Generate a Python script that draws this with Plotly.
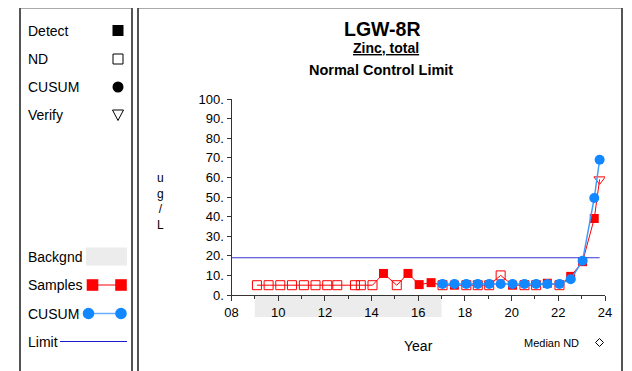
import plotly.graph_objects as go

# ---------------- data ----------------
sample_year = [9.09, 9.59, 10.09, 10.59, 11.1, 11.6, 12.1, 12.53, 13.29, 13.54,
               14.04, 14.51, 15.08, 15.56, 16.04, 16.55, 17.04, 17.55, 18.06, 18.55,
               19.04, 19.53, 20.04, 20.55, 21.05, 21.53, 22.05, 22.53, 23.04, 23.54, 23.77]
sample_value = [5, 5, 5, 5, 5, 5, 5, 5, 5, 5,
                5, 11, 5, 11, 5.3, 6.3, 5, 5, 5, 5,
                5, 10, 5, 5, 5, 6, 5, 9.5, 17, 39, 59]
sample_kind = ["N", "N", "N", "N", "N", "N", "N", "N", "N", "N",
               "N", "D", "N", "D", "D", "D", "N", "D", "N", "N",
               "N", "N", "D", "N", "N", "D", "N", "D", "D", "D", "V"]

cusum_year = [17.04, 17.55, 18.06, 18.55, 19.04, 19.53, 20.04, 20.55, 21.05, 21.53,
              22.05, 22.53, 23.04, 23.54, 23.77]
cusum_value = [5.6, 5.6, 5.6, 5.6, 5.6, 5.6, 5.6, 5.6, 5.6, 5.6,
               5.6, 8, 17.5, 49.5, 69]

limit_value = 19
limit_years = [8, 23.77]
background_years = [9, 17]
median_nd_year = [24.16]
median_nd_value = [4.6]

x_tick_vals = list(range(8, 25, 2))
x_tick_text = ["08", "10", "12", "14", "16", "18", "20", "22", "24"]
y_tick_vals = list(range(0, 101, 10))
y_tick_text = ["0.", "10.", "20.", "30.", "40.", "50.", "60.", "70.", "80.", "90.", "100."]

title_main = "LGW-8R"
title_param = "Zinc, total"
title_sub = "Normal Control Limit"
x_title = "Year"
y_title = ["u", "g", "/", "L"]
legend_items = ["Detect", "ND", "CUSUM", "Verify"]
legend_lines = ["Backgnd", "Samples", "CUSUM", "Limit"]

# ---------------- style ----------------
W, H = 632, 371
OFF = 8  # page body margin offset
RED = "#ff0000"
BLUE = "#1188ff"
BLUE_LINE = "#3d9bff"
LIMIT = "#3535d5"
FONT = "Arial, Liberation Sans, sans-serif"


def X(px):
    return (px - OFF) / W


def Y(py):
    return 1 - (py - OFF) / H


def label(text, px, py, size, xanchor="center"):
    return dict(text=text, x=X(px), y=Y(py), xref="paper", yref="paper",
                xanchor=xanchor, yanchor="middle", showarrow=False,
                font=dict(size=size, family=FONT, color="black"))


fig = go.Figure()

# samples line
fig.add_trace(go.Scatter(x=sample_year, y=sample_value, mode="lines",
                         line=dict(color=RED, width=1), hoverinfo="skip"))
det_x = [x for x, k in zip(sample_year, sample_kind) if k == "D"]
det_y = [y for y, k in zip(sample_value, sample_kind) if k == "D"]
nd_x = [x for x, k in zip(sample_year, sample_kind) if k == "N"]
nd_y = [y for y, k in zip(sample_value, sample_kind) if k == "N"]
v_x = [x for x, k in zip(sample_year, sample_kind) if k == "V"]
v_y = [y for y, k in zip(sample_value, sample_kind) if k == "V"]
fig.add_trace(go.Scatter(x=nd_x, y=nd_y, mode="markers",
                         marker=dict(symbol="square-open", size=9, color=RED,
                                     line=dict(width=1, color=RED))))
fig.add_trace(go.Scatter(x=det_x, y=det_y, mode="markers",
                         marker=dict(symbol="square", size=9, color=RED)))
fig.add_trace(go.Scatter(x=v_x, y=v_y, mode="markers",
                         marker=dict(symbol="triangle-down-open", size=10, color=RED,
                                     line=dict(width=1, color=RED))))
# limit
fig.add_trace(go.Scatter(x=limit_years, y=[limit_value] * len(limit_years), mode="lines",
                         line=dict(color=LIMIT, width=1.2)))
# cusum
fig.add_trace(go.Scatter(x=cusum_year, y=cusum_value, mode="lines+markers",
                         line=dict(color=BLUE_LINE, width=1.5),
                         marker=dict(symbol="circle", size=10, color=BLUE)))
# median ND
fig.add_trace(go.Scatter(x=median_nd_year, y=median_nd_value, mode="markers",
                         cliponaxis=False,
                         marker=dict(symbol="diamond-open", size=8, color=RED,
                                     line=dict(width=1, color=RED))))

shapes = []
annotations = []

# panel borders
shapes.append(dict(type="rect", xref="paper", yref="paper", x0=X(20), x1=X(132),
                   y0=Y(385), y1=Y(7.5), line=dict(color="#555555", width=2),
                   fillcolor="rgba(0,0,0,0)", layer="below"))
shapes.append(dict(type="rect", xref="paper", yref="paper", x0=X(138), x1=X(622),
                   y0=Y(385), y1=Y(7.5), line=dict(color="#555555", width=2),
                   fillcolor="rgba(0,0,0,0)", layer="below"))

# background band under axis
shapes.append(dict(type="rect", xref="x", yref="paper", x0=background_years[0],
                   x1=background_years[1], y0=Y(317), y1=Y(296),
                   fillcolor="#ececec", line=dict(width=0), layer="below"))

# titles
annotations.append(label("<b>" + title_main + "</b>", 382, 29, 19.5))
annotations.append(label("<b><u>" + title_param + "</u></b>", 386, 48, 14))
annotations.append(label("<b>" + title_sub + "</b>", 381, 70, 14.5))

# y title (stacked letters)
annotations.append(label("<br>".join(y_title), 160.5, 201.5, 12))
# x title
annotations.append(label(x_title, 418, 346, 14))
annotations.append(label("Median ND", 551, 342.5, 11))
shapes.append(dict(type="path", xref="paper", yref="paper",
                   path="M {} {} L {} {} L {} {} L {} {} Z".format(
                       X(599.5), Y(338.5), X(603.5), Y(342.5), X(599.5), Y(346.5), X(595.5), Y(342.5)),
                   line=dict(color="black", width=1), fillcolor="rgba(0,0,0,0)"))

# legend texts
for txt, py in zip(legend_items, [30.5, 59, 87, 115]):
    annotations.append(label(txt, 26, py, 14, xanchor="left"))
for txt, py in zip(legend_lines, [256.5, 285, 313.5, 341.5]):
    annotations.append(label(txt, 26, py, 14, xanchor="left"))

# legend symbols
sx = 118
s = 5.5
shapes.append(dict(type="rect", xref="paper", yref="paper", x0=X(sx - s), x1=X(sx + s),
                   y0=Y(30.5 + s), y1=Y(30.5 - s), fillcolor="black", line=dict(width=0)))
shapes.append(dict(type="rect", xref="paper", yref="paper", x0=X(sx - s + 0.5), x1=X(sx + s - 0.5),
                   y0=Y(59 + s - 0.5), y1=Y(59 - s + 0.5), fillcolor="white",
                   line=dict(color="black", width=1)))
shapes.append(dict(type="circle", xref="paper", yref="paper", x0=X(sx - s), x1=X(sx + s),
                   y0=Y(87 + s), y1=Y(87 - s), fillcolor="black", line=dict(width=0)))
shapes.append(dict(type="path", xref="paper", yref="paper",
                   path="M {} {} L {} {} L {} {} Z".format(
                       X(sx - 5.5), Y(110), X(sx + 5.5), Y(110), X(sx), Y(120.5)),
                   line=dict(color="black", width=1), fillcolor="white"))
# backgnd swatch
shapes.append(dict(type="rect", xref="paper", yref="paper", x0=X(86), x1=X(127),
                   y0=Y(265.5), y1=Y(247.5), fillcolor="#ececec", line=dict(width=0)))
# samples
shapes.append(dict(type="line", xref="paper", yref="paper", x0=X(92), x1=X(121),
                   y0=Y(285), y1=Y(285), line=dict(color="#ff5555", width=1.5)))
for cx in [92.5, 121]:
    shapes.append(dict(type="rect", xref="paper", yref="paper", x0=X(cx - 5.8), x1=X(cx + 5.8),
                       y0=Y(285 + 5.8), y1=Y(285 - 5.8), fillcolor=RED, line=dict(width=0)))
# cusum
shapes.append(dict(type="line", xref="paper", yref="paper", x0=X(88.5), x1=X(121),
                   y0=Y(313.5), y1=Y(313.5), line=dict(color="#66b0ff", width=1.5)))
for cx in [88.5, 121]:
    shapes.append(dict(type="circle", xref="paper", yref="paper", x0=X(cx - 5.8), x1=X(cx + 5.8),
                       y0=Y(313.5 + 5.8), y1=Y(313.5 - 5.8), fillcolor=BLUE, line=dict(width=0)))
# limit
shapes.append(dict(type="line", xref="paper", yref="paper", x0=X(60), x1=X(127),
                   y0=Y(341.5), y1=Y(341.5), line=dict(color="#1a1acc", width=1.2)))

fig.update_layout(
    width=W, height=H,
    margin=dict(l=0, r=0, t=0, b=0, pad=0, autoexpand=False),
    paper_bgcolor="white", plot_bgcolor="rgba(0,0,0,0)",
    showlegend=False,
    font=dict(family=FONT, color="black"),
    shapes=shapes, annotations=annotations,
    xaxis=dict(domain=[X(231.5), X(605)], range=[8, 24], tickvals=x_tick_vals,
               ticktext=x_tick_text, ticks="outside", ticklen=5, tickcolor="#333333",
               minor=dict(dtick=1, tick0=8, ticks="outside", ticklen=3, tickcolor="#333333"),
               showline=True, linecolor="#333333", linewidth=1, showgrid=False,
               zeroline=False, automargin=False,
               tickfont=dict(size=13, family=FONT, color="black")),
    yaxis=dict(domain=[Y(295), Y(99)], range=[0, 100], tickvals=y_tick_vals,
               ticktext=y_tick_text, ticks="outside", ticklen=4, tickcolor="#333333",
               showline=True, linecolor="#333333", linewidth=1, showgrid=False,
               zeroline=False, automargin=False,
               tickfont=dict(size=13, family=FONT, color="black")),
)

fig.write_html("out.html")
